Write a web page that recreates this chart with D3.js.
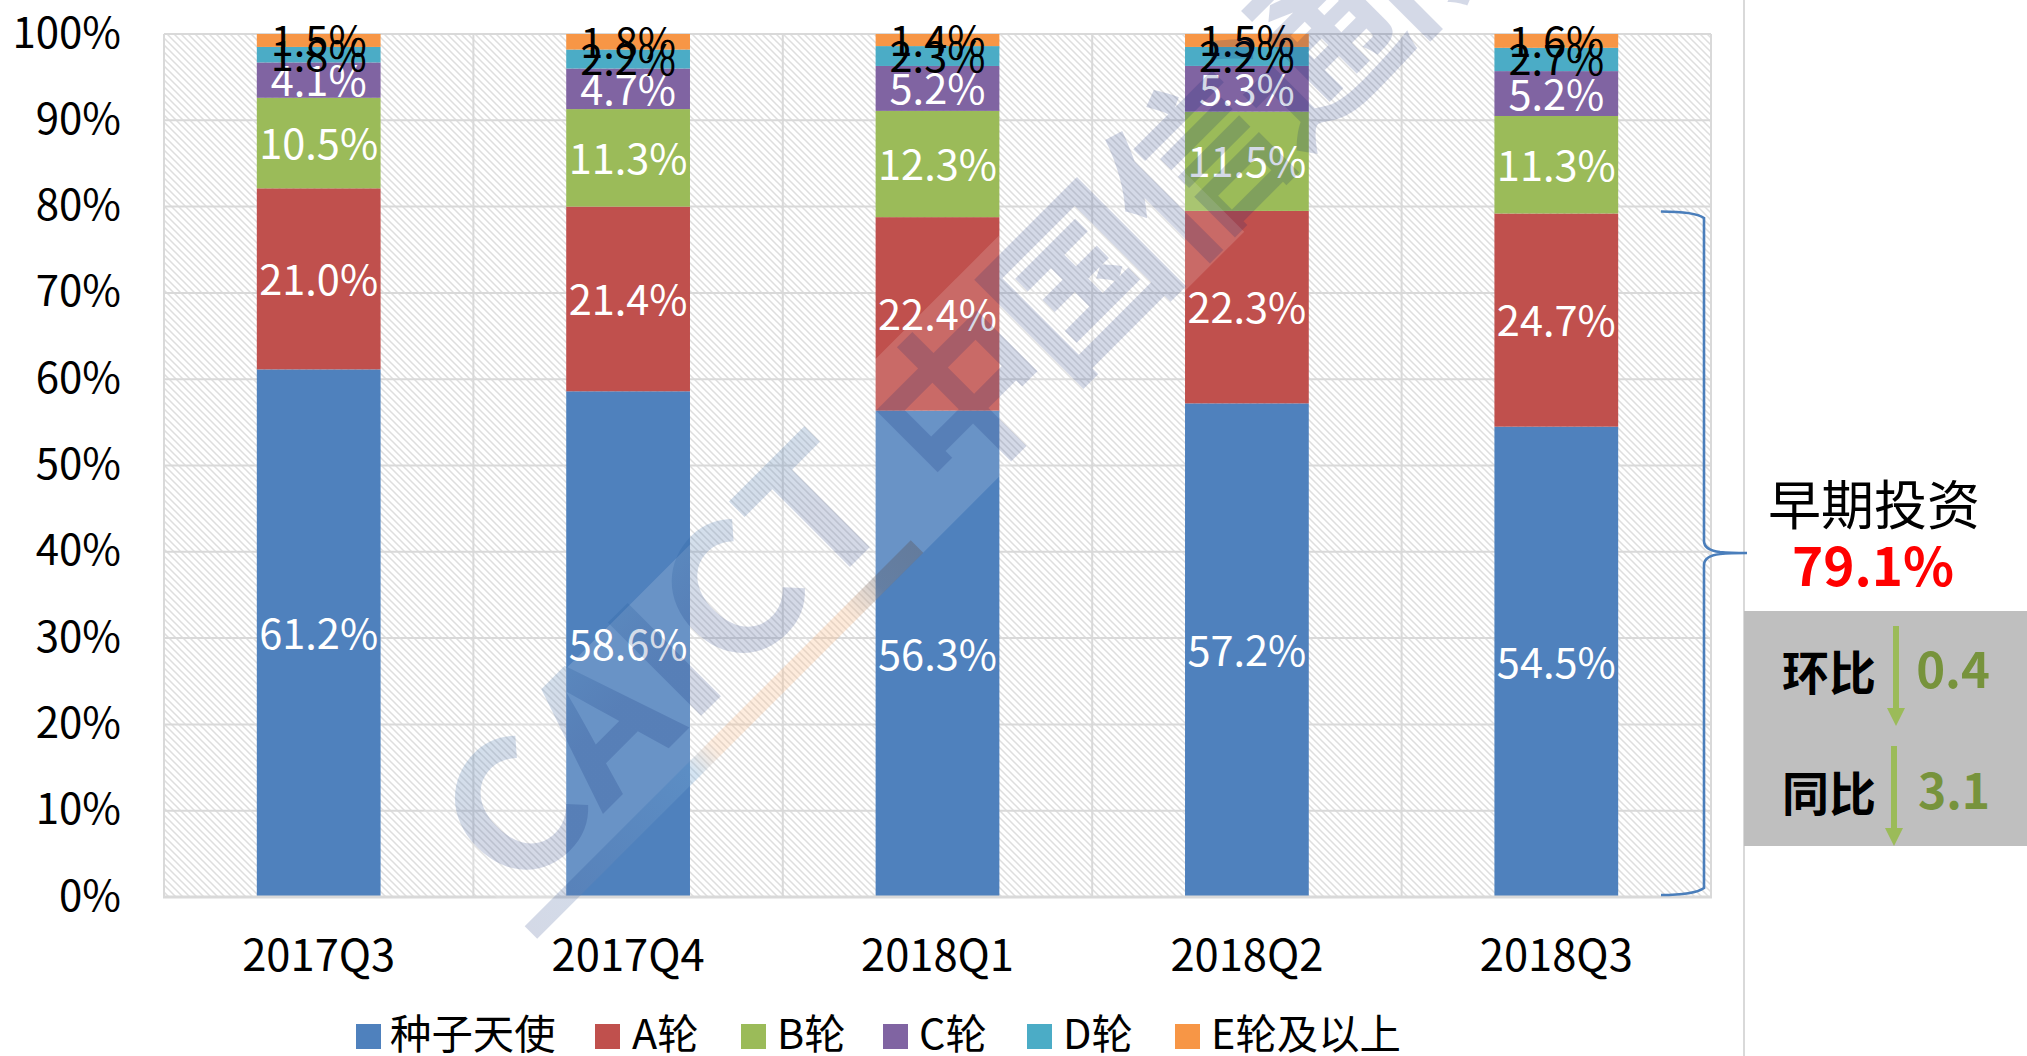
<!DOCTYPE html>
<html lang="zh">
<head>
<meta charset="utf-8">
<script src="https://cdn.jsdelivr.net/npm/d3@7/dist/d3.min.js"></script>
<style>
html,body{margin:0;padding:0;background:#fff;overflow:hidden}
svg{display:block}
text{font-family:"Noto Sans CJK SC","Noto Sans",sans-serif}
</style>
</head>
<body>
<svg id="chart" width="2027" height="1056"></svg>
<script>
const quarters = ["2017Q3","2017Q4","2018Q1","2018Q2","2018Q3"];
const seedAngel = [61.2,58.6,56.3,57.2,54.5];
const roundA = [21.0,21.4,22.4,22.3,24.7];
const roundB = [10.5,11.3,12.3,11.5,11.3];
const roundC = [4.1,4.7,5.2,5.3,5.2];
const roundD = [1.8,2.2,2.3,2.2,2.7];
const roundE = [1.5,1.8,1.4,1.5,1.6];
const seriesNames = ["种子天使","A轮","B轮","C轮","D轮","E轮及以上"];
const seriesColors = ["#4F81BD","#C0504D","#9BBB59","#8064A2","#4BACC6","#F79646"];
const labelColors = ["#fff","#fff","#fff","#fff","#000","#000"];
const yTicks = [0,10,20,30,40,50,60,70,80,90,100];
const legendSwatchX = [356,595,741,883,1027,1175];
const legendTextX = [390,632,777,919,1063,1211];

const seriesValues = [seedAngel,roundA,roundB,roundC,roundD,roundE];
const rows = quarters.map((q,i)=>{
  const r = {q};
  seriesNames.forEach((n,s)=>{ r[n] = seriesValues[s][i]; });
  return r;
});

const svg = d3.select("#chart");
const L=164, R=1711, T=34, B=897;
const x = d3.scaleBand().domain(quarters).range([L,R]).paddingInner(0.6).paddingOuter(0.3);
const y = d3.scaleLinear().domain([0,100]).range([B,T]);
const GRID="#D9D9D9";

const defs = svg.append("defs");
const hatch = defs.append("pattern").attr("id","hatch").attr("patternUnits","userSpaceOnUse")
  .attr("width",7).attr("height",7);
hatch.append("rect").attr("width",7).attr("height",7).attr("fill","#fff");
hatch.append("path").attr("d","M-1,-1L8,8M-1,6L1,8M6,-1L8,1").attr("stroke","#DEDEDE").attr("stroke-width",1.5).attr("fill","none");

const wmText = defs.append("linearGradient").attr("id","wmText").attr("x1",0).attr("y1",0).attr("x2",0).attr("y2",1);
wmText.append("stop").attr("offset","0.18").attr("stop-color","rgb(40,110,170)").attr("stop-opacity",0.2);
wmText.append("stop").attr("offset","0.55").attr("stop-color","rgb(0,30,110)").attr("stop-opacity",0.17);

const wmStripe = defs.append("linearGradient").attr("id","wmStripe").attr("x1",0).attr("y1",0).attr("x2",1).attr("y2",0);
[[0,"rgb(0,30,110)",.17],[.42,"rgb(40,120,190)",.2],[.48,"rgb(247,150,70)",.17],[.82,"rgb(247,150,70)",.2],[.9,"rgb(90,80,80)",.3],[1,"rgb(90,80,80)",.35]]
  .forEach(s=>wmStripe.append("stop").attr("offset",s[0]).attr("stop-color",s[1]).attr("stop-opacity",s[2]));

// plot background
svg.append("rect").attr("x",L).attr("y",T).attr("width",R-L).attr("height",B-T).attr("fill","url(#hatch)");

// gridlines
const grid = svg.append("g");
grid.selectAll("line.h").data(yTicks).join("line").attr("class","h")
  .attr("x1",L).attr("x2",R).attr("y1",d=>y(d)).attr("y2",d=>y(d))
  .attr("stroke",GRID).attr("stroke-width",2);
const bounds = d3.range(quarters.length+1).map(i=>L+i*x.step());
grid.selectAll("line.v").data(bounds).join("line").attr("class","v")
  .attr("x1",d=>d).attr("x2",d=>d).attr("y1",T).attr("y2",B)
  .attr("stroke",GRID).attr("stroke-width",2);

// bars
const stack = d3.stack().keys(seriesNames).offset(d3.stackOffsetExpand);
const layers = stack(rows);
const pct = v=>v*100;
const bars = svg.append("g");
layers.forEach((layer,s)=>{
  bars.selectAll(null).data(layer).join("rect")
    .attr("x",d=>x(d.data.q)).attr("width",x.bandwidth())
    .attr("y",d=>y(pct(d[1]))).attr("height",d=>y(pct(d[0]))-y(pct(d[1])))
    .attr("fill",seriesColors[s]);
});

// baseline
svg.append("line").attr("x1",L-1).attr("x2",R+1).attr("y1",B).attr("y2",B).attr("stroke",GRID).attr("stroke-width",3);

// axes
const yAxis = svg.append("g").attr("transform",`translate(${L},0)`)
  .call(d3.axisLeft(y).tickValues(yTicks).tickSize(0).tickPadding(43).tickFormat(d=>d+"%"));
yAxis.select(".domain").remove();
yAxis.selectAll("text").attr("font-size",42).attr("fill","#000").attr("dy","0.31em");

const xAxis = svg.append("g").attr("transform",`translate(0,${B})`)
  .call(d3.axisBottom(x).tickSize(0).tickPadding(0));
xAxis.select(".domain").remove();
xAxis.selectAll("text").attr("font-size",43.5).attr("fill","#000").attr("y",74).attr("dy",0);

// data labels
const labels = svg.append("g").attr("text-anchor","middle").attr("font-size",41.5);
layers.forEach((layer,s)=>{
  labels.selectAll(null).data(layer).join("text")
    .attr("x",d=>x(d.data.q)+x.bandwidth()/2)
    .attr("y",d=>(y(pct(d[0]))+y(pct(d[1])))/2+16)
    .attr("fill",labelColors[s])
    .text((d,i)=>seriesValues[s][i].toFixed(1)+"%");
});

// legend
const legend = svg.append("g");
seriesNames.forEach((n,i)=>{
  legend.append("rect").attr("x",legendSwatchX[i]).attr("y",1024).attr("width",25).attr("height",25).attr("fill",seriesColors[i]);
  legend.append("text").attr("x",legendTextX[i]).attr("y",1049).attr("font-size",41.4).attr("fill","#000").text(n);
});

// right panel
svg.append("line").attr("x1",1744).attr("x2",1744).attr("y1",0).attr("y2",1056).attr("stroke",GRID).attr("stroke-width",2);
svg.append("rect").attr("x",1744).attr("y",611).attr("width",283).attr("height",235).attr("fill","#BFBFBF");
svg.append("path")
  .attr("d","M1661,211.5C1680,211.5 1697,213 1704,218V541C1704,549 1712,551 1720,552C1730,553 1740,553 1747,553C1740,553 1730,553 1720,554C1712,555 1704,557 1704,565V888C1697,893 1680,895 1661,895")
  .attr("fill","none").attr("stroke","#4A7EBB").attr("stroke-width",2.6);
svg.append("text").attr("x",1874).attr("y",525).attr("text-anchor","middle").attr("font-size",53).attr("fill","#000").text("早期投资");
svg.append("text").attr("x",1873).attr("y",586).attr("text-anchor","middle").attr("font-size",53).attr("font-weight",700).attr("fill","#FF0000").text("79.1%");
svg.append("text").attr("x",1829).attr("y",690).attr("text-anchor","middle").attr("font-size",47).attr("font-weight",700).attr("fill","#000").text("环比");
svg.append("text").attr("x",1829).attr("y",811).attr("text-anchor","middle").attr("font-size",47).attr("font-weight",700).attr("fill","#000").text("同比");
svg.append("text").attr("x",1953).attr("y",688).attr("text-anchor","middle").attr("font-size",49).attr("font-weight",700).attr("fill","#77933C").text("0.4");
svg.append("text").attr("x",1954).attr("y",809).attr("text-anchor","middle").attr("font-size",48).attr("font-weight",700).attr("fill","#77933C").text("3.1");
[[1896,626,726],[1894,746,846]].forEach(a=>{
  const [cx,t,b]=a;
  svg.append("path").attr("fill","#9BBB59")
    .attr("d",`M${cx-3},${t}H${cx+3}V${b-18}H${cx+9}L${cx},${b}L${cx-9},${b-18}H${cx-3}Z`);
});

// watermark, in coordinates along and across its 45-degree axis
const wm = svg.append("g").attr("transform","rotate(-45)").attr("pointer-events","none");
wm.append("rect").attr("x",-284).attr("y",873).attr("width",1000).attr("height",170.6).attr("fill","#fff").attr("fill-opacity",0.15);
wm.append("rect").attr("x",-284).attr("y",1026).attr("width",546).attr("height",17.7).attr("fill","url(#wmStripe)");
wm.append("text").attr("x",-272).attr("y",1002).attr("font-size",178).attr("font-weight",700)
  .attr("textLength",545).attr("lengthAdjust","spacingAndGlyphs")
  .attr("fill","url(#wmText)").text("CAICT");
wm.append("text").attr("x",314).attr("y",1026).attr("font-size",172).attr("font-weight",700)
  .attr("letter-spacing",-8).attr("fill","rgb(0,30,110)").attr("fill-opacity",0.17).text("中国信通院");
</script>
</body>
</html>
